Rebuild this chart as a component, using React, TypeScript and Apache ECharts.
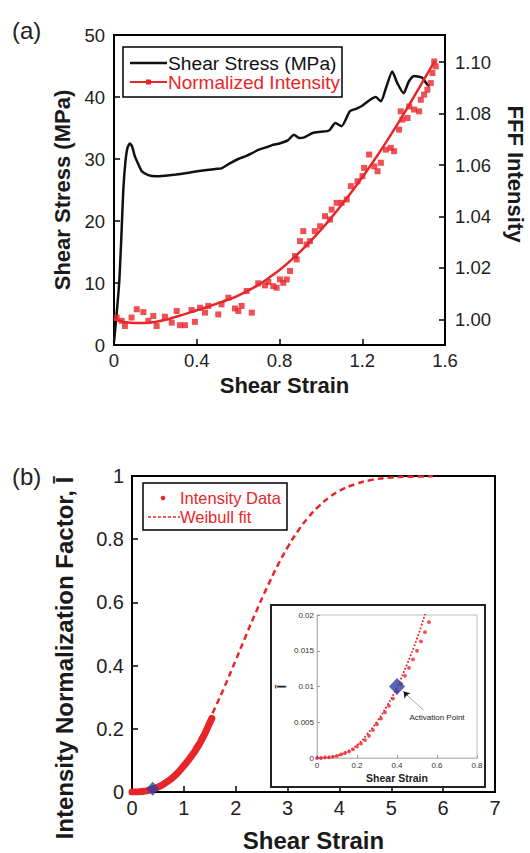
import React, { useEffect, useRef } from 'react';
import * as echarts from 'echarts';

// ---------- Panel (a): shear stress curve ----------
const stressStrain = [0, 0.01, 0.025, 0.035, 0.045, 0.055, 0.065, 0.077, 0.088, 0.1, 0.117, 0.135, 0.166, 0.2, 0.246, 0.3, 0.343, 0.38, 0.44, 0.49, 0.52, 0.56, 0.6, 0.64, 0.665, 0.7, 0.746, 0.77, 0.8, 0.84, 0.87, 0.895, 0.92, 0.96, 1.0, 1.04, 1.07, 1.1, 1.14, 1.17, 1.2, 1.24, 1.265, 1.29, 1.315, 1.345, 1.37, 1.4, 1.425, 1.45, 1.49, 1.51, 1.525];
const stressMPa = [0.5, 4, 10, 17, 25, 29.5, 31.8, 32.5, 32.0, 30.5, 29.2, 28.0, 27.4, 27.2, 27.3, 27.5, 27.7, 27.9, 28.2, 28.4, 28.5, 29.3, 30.0, 30.5, 30.9, 31.5, 32.0, 32.3, 32.5, 33.0, 33.9, 33.4, 33.5, 34.2, 34.4, 34.6, 35.8, 35.3, 37.7, 38.1, 38.6, 39.6, 40.0, 39.3, 41.5, 44.1, 42.2, 40.6, 42.5, 43.4, 43.1, 42.2, 41.7];

// Panel (a): normalized intensity measurements
const intensityStrain = [0.013, 0.037, 0.053, 0.085, 0.11, 0.142, 0.166, 0.19, 0.206, 0.246, 0.279, 0.303, 0.319, 0.343, 0.375, 0.391, 0.416, 0.44, 0.456, 0.504, 0.52, 0.553, 0.585, 0.601, 0.617, 0.641, 0.666, 0.697, 0.73, 0.746, 0.77, 0.786, 0.802, 0.818, 0.835, 0.851, 0.875, 0.883, 0.899, 0.915, 0.931, 0.947, 0.971, 0.996, 1.02, 1.044, 1.052, 1.076, 1.1, 1.125, 1.145, 1.177, 1.201, 1.209, 1.233, 1.258, 1.274, 1.29, 1.314, 1.338, 1.354, 1.378, 1.386, 1.394, 1.419, 1.427, 1.451, 1.475, 1.483, 1.499, 1.515, 1.531, 1.539, 1.555, 1.548];
const intensityValues = [1.0007, 0.9994, 0.9974, 1.0007, 1.0039, 1.0028, 0.9994, 1.0013, 0.9974, 1.001, 0.9987, 1.0032, 0.9977, 0.9977, 1.0036, 0.999, 1.0045, 1.0026, 1.0052, 1.0019, 1.0058, 1.0084, 1.0042, 1.0032, 1.0052, 1.011, 1.0026, 1.014, 1.0132, 1.0145, 1.0129, 1.0123, 1.0155, 1.0142, 1.0155, 1.0188, 1.0246, 1.0233, 1.0304, 1.0343, 1.0291, 1.0304, 1.0343, 1.0362, 1.0401, 1.0388, 1.0427, 1.0453, 1.0453, 1.0466, 1.0518, 1.0537, 1.0557, 1.0589, 1.0641, 1.0595, 1.0576, 1.0609, 1.066, 1.0667, 1.0654, 1.0738, 1.0809, 1.0777, 1.0783, 1.0828, 1.0816, 1.0809, 1.0854, 1.0874, 1.0893, 1.0919, 1.0958, 1.0984, 1.1003];

// Panel (a): fitted intensity trend
const fitStrainA = [0, 0.05, 0.1, 0.15, 0.2, 0.25, 0.3, 0.35, 0.4, 0.45, 0.5, 0.55, 0.6, 0.65, 0.7, 0.75, 0.8, 0.85, 0.9, 0.95, 1.0, 1.05, 1.1, 1.15, 1.2, 1.25, 1.3, 1.35, 1.4, 1.45, 1.5, 1.55];
const fitValuesA = [1.0, 0.999, 0.9986, 0.9986, 0.999, 0.9998, 1.001, 1.0022, 1.0035, 1.0048, 1.0062, 1.0076, 1.0092, 1.0112, 1.0135, 1.0162, 1.0192, 1.0226, 1.0263, 1.0304, 1.0348, 1.0395, 1.0445, 1.0497, 1.0552, 1.061, 1.067, 1.0733, 1.0798, 1.0866, 1.0935, 1.1003];

const rightTicksA = [1.0, 1.02, 1.04, 1.06, 1.08, 1.1];

// ---------- Panel (b) ----------
const dataStrainB = [0, 0.1, 0.2, 0.3, 0.4, 0.5, 0.6, 0.7, 0.8, 0.9, 1.0, 1.1, 1.2, 1.3, 1.4, 1.5, 1.54];
const dataValuesB = [0, 0.0003, 0.0017, 0.0045, 0.0093, 0.0155, 0.024, 0.035, 0.048, 0.064, 0.083, 0.103, 0.126, 0.152, 0.183, 0.219, 0.233];
const fitStrainB = [0, 0.2, 0.4, 0.6, 0.8, 1.0, 1.2, 1.4, 1.6, 1.8, 2.0, 2.2, 2.4, 2.6, 2.8, 3.0, 3.2, 3.4, 3.6, 3.8, 4.0, 4.3, 4.6, 5.0, 5.4, 5.8];
const fitValuesB = [0, 0.0017, 0.0096, 0.0262, 0.0531, 0.091, 0.14, 0.198, 0.266, 0.339, 0.417, 0.496, 0.573, 0.646, 0.714, 0.774, 0.826, 0.869, 0.904, 0.932, 0.953, 0.974, 0.987, 0.995, 0.998, 0.999];

// Inset
const insetDataStrain = [0, 0.02, 0.04, 0.06, 0.08, 0.1, 0.12, 0.14, 0.16, 0.18, 0.2, 0.22, 0.24, 0.26, 0.28, 0.3, 0.32, 0.34, 0.36, 0.38, 0.4, 0.42, 0.44, 0.46, 0.48, 0.5, 0.52, 0.54, 0.56];
const insetDataValues = [0, 0, 0.0001, 0.0001, 0.0002, 0.0003, 0.0005, 0.0007, 0.0009, 0.0012, 0.0016, 0.002, 0.0025, 0.0031, 0.0039, 0.0047, 0.0055, 0.0064, 0.0073, 0.0083, 0.0093, 0.0104, 0.0115, 0.0126, 0.0138, 0.015, 0.0163, 0.0176, 0.019];
const insetFitStrain = [0, 0.05, 0.1, 0.15, 0.2, 0.25, 0.3, 0.35, 0.4, 0.45, 0.5, 0.55];
const insetFitValues = [0, 0.00005, 0.0003, 0.0009, 0.0018, 0.0033, 0.0051, 0.0073, 0.0099, 0.0131, 0.0167, 0.021];
const activationPoint = [0.4, 0.01];

const zip = (xs: number[], ys: number[]) => xs.map((x, i) => [x, ys[i]]);

const FONT = '"Liberation Sans", Arial, sans-serif';
const RED = '#e8262a';
const BLUE = '#2e3f9e';
const INK = '#1a1a1a';

function buildOption(): any {
  const mainAxisLine = { show: true, lineStyle: { color: '#000', width: 2 } };
  const mainTick = { show: true, inside: true, length: 6, lineStyle: { color: '#000', width: 1.5 } };
  const labA = { color: '#222', fontSize: 18.5, fontFamily: FONT };
  const labB = { color: '#222', fontSize: 20, fontFamily: FONT };
  const titleStyle = { color: INK, fontSize: 22, fontWeight: 'bold', fontFamily: FONT };
  const insetLab = { color: '#333', fontSize: 8, fontFamily: FONT, margin: 3 };
  const insetLine = { show: true, lineStyle: { color: '#bdbdbd', width: 1 } };
  const insetTick = { show: true, inside: true, length: 3, lineStyle: { color: '#999', width: 1 } };
  const mid = { verticalAlign: 'middle', textVerticalAlign: 'middle' };
  const ctr = { align: 'center', textAlign: 'center', verticalAlign: 'middle', textVerticalAlign: 'middle' };

  return {
    animation: false,
    backgroundColor: '#fff',
    grid: [
      { left: 114, top: 35, width: 331, height: 310, show: true, borderColor: '#000', borderWidth: 2, backgroundColor: 'transparent' },
      { left: 132, top: 476, width: 363, height: 325, show: true, borderColor: '#000', borderWidth: 2, backgroundColor: 'transparent' },
      { left: 317, top: 615, width: 160, height: 143, show: true, borderColor: '#bdbdbd', borderWidth: 1, backgroundColor: 'transparent', z: 6 },
    ],
    xAxis: [
      {
        gridIndex: 0, type: 'value', min: 0, max: 1.6, interval: 0.4,
        axisLine: mainAxisLine, axisTick: mainTick, splitLine: { show: false },
        axisLabel: { ...labA, margin: 6 },
        name: 'Shear Strain', nameLocation: 'middle', nameGap: 29,
        nameTextStyle: { ...titleStyle, padding: [0, 0, 0, 10] },
      },
      {
        gridIndex: 1, type: 'value', min: 0, max: 7, interval: 1,
        axisLine: mainAxisLine, axisTick: mainTick, splitLine: { show: false },
        axisLabel: { ...labB, margin: 6 },
        name: 'Shear Strain', nameLocation: 'middle', nameGap: 36,
        nameTextStyle: { ...titleStyle, fontSize: 24 },
      },
      {
        gridIndex: 2, type: 'value', min: 0, max: 0.8, interval: 0.2, z: 8,
        axisLine: insetLine, axisTick: insetTick, splitLine: { show: false },
        axisLabel: insetLab,
        name: 'Shear Strain', nameLocation: 'middle', nameGap: 14,
        nameTextStyle: { color: '#222', fontSize: 10.5, fontWeight: 'bold', fontFamily: FONT },
      },
    ],
    yAxis: [
      {
        gridIndex: 0, type: 'value', min: 0, max: 50, interval: 10,
        axisLine: mainAxisLine, axisTick: mainTick, splitLine: { show: false },
        axisLabel: { ...labA, margin: 9 },
        name: 'Shear Stress (MPa)', nameLocation: 'middle', nameGap: 40, nameTextStyle: titleStyle,
      },
      {
        gridIndex: 0, type: 'value', position: 'right', min: 0.99, max: 1.1106,
        axisLine: mainAxisLine,
        axisTick: { ...mainTick, customValues: rightTicksA },
        splitLine: { show: false },
        axisLabel: { ...labA, margin: 10, customValues: rightTicksA, formatter: (v: number) => v.toFixed(2) },
      },
      {
        gridIndex: 1, type: 'value', min: 0, max: 1, interval: 0.2,
        axisLine: mainAxisLine, axisTick: mainTick, splitLine: { show: false },
        axisLabel: { ...labB, margin: 8 },
      },
      {
        gridIndex: 2, type: 'value', min: 0, max: 0.02, interval: 0.005, z: 8,
        axisLine: insetLine, axisTick: insetTick, splitLine: { show: false },
        axisLabel: insetLab,
        name: 'Ī', nameLocation: 'middle', nameGap: 29,
        nameTextStyle: { color: '#222', fontSize: 12, fontWeight: 'bold', fontFamily: FONT },
      },
    ],
    graphic: [
      { type: 'text', x: 12, y: 30, style: { text: '(a)', fontSize: 24, fontFamily: FONT, fill: '#222', ...mid } },
      { type: 'text', x: 12, y: 476, style: { text: '(b)', fontSize: 24, fontFamily: FONT, fill: '#222', ...mid } },
      // right title (a)
      { type: 'text', x: 515, y: 174, rotation: -Math.PI / 2, style: { text: 'FFF Intensity', fontSize: 22, fontWeight: 'bold', fontFamily: FONT, fill: INK, ...ctr } },
      // legend (a)
      { type: 'rect', z: 10, shape: { x: 123, y: 47, width: 219, height: 50 }, style: { fill: '#fff', stroke: '#000', lineWidth: 1.5 } },
      { type: 'line', z: 11, shape: { x1: 130, y1: 63, x2: 167, y2: 63 }, style: { stroke: '#111', lineWidth: 2.5 } },
      { type: 'text', z: 11, x: 168, y: 63, style: { text: 'Shear Stress (MPa)', fontSize: 19.2, fontFamily: FONT, fill: '#111', ...mid } },
      { type: 'line', z: 11, shape: { x1: 130, y1: 82, x2: 167, y2: 82 }, style: { stroke: RED, lineWidth: 2 } },
      { type: 'rect', z: 11, shape: { x: 146, y: 79.5, width: 5, height: 5 }, style: { fill: RED } },
      { type: 'text', z: 11, x: 168, y: 82, style: { text: 'Normalized Intensity', fontSize: 19, fontFamily: FONT, fill: RED, ...mid } },
      // legend (b)
      { type: 'rect', z: 10, shape: { x: 143, y: 483, width: 144, height: 47 }, style: { fill: '#fff', stroke: '#000', lineWidth: 1.5 } },
      { type: 'circle', z: 11, shape: { cx: 163, cy: 498, r: 2.3 }, style: { fill: RED } },
      { type: 'text', z: 11, x: 180, y: 498, style: { text: 'Intensity Data', fontSize: 16.5, fontFamily: FONT, fill: RED, ...mid } },
      { type: 'line', z: 11, shape: { x1: 148, y1: 517, x2: 180, y2: 517 }, style: { stroke: RED, lineWidth: 1.5, lineDash: [3, 2] } },
      { type: 'text', z: 11, x: 180, y: 517, style: { text: 'Weibull fit', fontSize: 16.5, fontFamily: FONT, fill: RED, ...mid } },
      // y title (b)
      { type: 'text', x: 64, y: 658, rotation: Math.PI / 2, style: { text: 'Intensity Normalization Factor, Ī', fontSize: 24, fontWeight: 'bold', fontFamily: FONT, fill: INK, ...ctr } },
      // inset frame
      { type: 'rect', z: 5, shape: { x: 271, y: 605, width: 214, height: 182 }, style: { fill: '#fff', stroke: '#222', lineWidth: 2 } },
      { type: 'text', z: 20, x: 437, y: 717, style: { text: 'Activation Point', fontSize: 8, fontFamily: FONT, fill: '#222', ...ctr } },
    ],
    series: [
      {
        name: 'Shear Stress (MPa)', type: 'line', xAxisIndex: 0, yAxisIndex: 0,
        data: zip(stressStrain, stressMPa), showSymbol: false, symbol: 'none', smooth: 0.2,
        lineStyle: { color: '#111', width: 2.5 }, itemStyle: { color: '#111' }, z: 2,
      },
      {
        name: 'Normalized Intensity', type: 'scatter', xAxisIndex: 0, yAxisIndex: 1,
        data: zip(intensityStrain, intensityValues), symbol: 'rect', symbolSize: 6,
        itemStyle: { color: RED }, z: 3,
      },
      {
        name: 'Normalized Intensity fit', type: 'line', xAxisIndex: 0, yAxisIndex: 1,
        data: zip(fitStrainA, fitValuesA), showSymbol: false, symbol: 'none', smooth: true,
        lineStyle: { color: RED, width: 2.5 }, itemStyle: { color: RED }, z: 4,
      },
      {
        name: 'Weibull fit', type: 'line', xAxisIndex: 1, yAxisIndex: 2,
        data: zip(fitStrainB, fitValuesB), showSymbol: false, symbol: 'none', smooth: true,
        lineStyle: { color: RED, width: 2.5, type: [6, 4] }, itemStyle: { color: RED }, z: 2,
      },
      {
        name: 'Intensity Data', type: 'line', xAxisIndex: 1, yAxisIndex: 2,
        data: zip(dataStrainB, dataValuesB), showSymbol: false, symbol: 'none', smooth: true,
        lineStyle: { color: RED, width: 7, cap: 'round' }, itemStyle: { color: RED }, z: 3,
      },
      {
        name: 'Activation Point', type: 'scatter', xAxisIndex: 1, yAxisIndex: 2,
        data: [activationPoint], symbol: 'diamond', symbolSize: [13, 14],
        itemStyle: { color: BLUE }, z: 4,
      },
      {
        name: 'Inset Weibull fit', type: 'line', xAxisIndex: 2, yAxisIndex: 3,
        data: zip(insetFitStrain, insetFitValues), showSymbol: false, symbol: 'none', smooth: true,
        lineStyle: { color: RED, width: 1.8, type: 'dotted' }, itemStyle: { color: RED }, z: 8,
      },
      {
        name: 'Inset Intensity Data', type: 'scatter', xAxisIndex: 2, yAxisIndex: 3,
        data: zip(insetDataStrain, insetDataValues), symbol: 'circle', symbolSize: 3.8,
        itemStyle: { color: RED }, z: 8,
      },
      {
        name: 'Inset Activation Point', type: 'scatter', xAxisIndex: 2, yAxisIndex: 3,
        data: [activationPoint], symbol: 'diamond', symbolSize: [16, 17],
        itemStyle: { color: BLUE }, z: 9,
        markLine: {
          silent: true, animation: false, label: { show: false }, symbolSize: 6,
          data: [
            [
              { coord: [0.533, 0.0067], symbol: 'none', lineStyle: { color: '#aaa', width: 1, type: 'solid' } },
              { coord: [0.445, 0.0089], symbol: 'none' },
            ],
            [
              { coord: [0.452, 0.0087], symbol: 'none', lineStyle: { color: '#111', width: 1, type: 'solid' } },
              { coord: [0.433, 0.0093], symbol: 'arrow' },
            ],
          ],
        },
      },
    ],
  };
}

export default function App() {
  const ref = useRef<HTMLDivElement>(null);
  useEffect(() => {
    if (!ref.current) return;
    const chart = echarts.init(ref.current, null, { renderer: 'svg' });
    chart.setOption(buildOption());
    return () => chart.dispose();
  }, []);
  return (
    <div
      ref={ref}
      style={{ position: 'fixed', left: 0, top: 0, width: 530, height: 853, background: '#fff' }}
    />
  );
}
